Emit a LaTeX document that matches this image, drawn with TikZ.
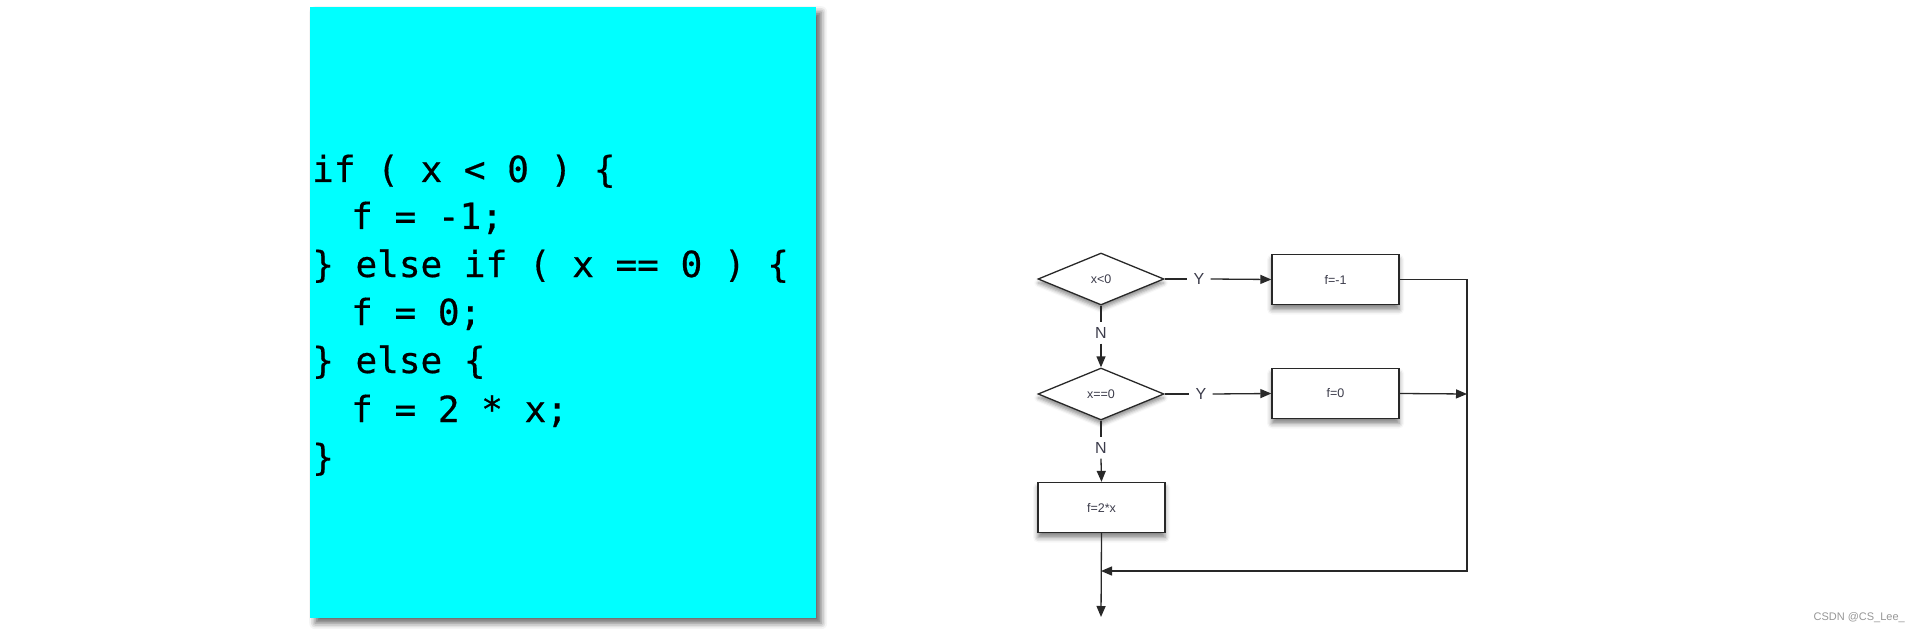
\documentclass[tikz,border=0pt]{standalone}
\usepackage{fontspec}
\setmainfont{Liberation Sans}
\newfontfamily\codefont[FakeBold=0.5]{DejaVu Sans Mono}
\usetikzlibrary{shapes.geometric,arrows.meta,shadows.blur}
\definecolor{codecyan}{RGB}{0,255,255}
\definecolor{linegray}{RGB}{40,40,40}
\definecolor{labgray}{RGB}{60,60,75}
\definecolor{markgray}{RGB}{150,150,150}
\tikzset{
  codeline/.style={anchor=base west, inner sep=0pt, font=\codefont\fontsize{36}{48}\selectfont},
  decision/.style={diamond, draw=linegray, line width=1.3pt, fill=white, minimum width=126pt, minimum height=52pt, inner sep=0pt,
    font=\fontsize{12.5}{14}\selectfont, text=labgray,
    blur shadow={shadow xshift=0pt, shadow yshift=-4pt, shadow blur radius=4pt, shadow opacity=45}},
  actbox/.style={rectangle, draw=linegray, line width=1.3pt, fill=white, minimum width=127pt, minimum height=50pt, inner sep=0pt,
    font=\fontsize{12.5}{14}\selectfont, text=labgray,
    blur shadow={shadow xshift=0pt, shadow yshift=-5pt, shadow blur radius=5pt, shadow opacity=50}},
  branchlab/.style={inner xsep=6pt, inner ysep=5pt, font=\fontsize{16}{18}\selectfont, text=labgray},
  conn/.style={draw=linegray, line width=1.3pt},
  arr/.style={conn, -{Triangle[length=11pt,width=9pt]}},
}
\begin{document}
\begin{tikzpicture}[x=1pt,y=-1pt]
\useasboundingbox (0,0) rectangle (1920,631);
% code panel
\node[anchor=north west, inner sep=0pt, minimum width=506pt, minimum height=611pt, fill=codecyan,
  blur shadow={shadow xshift=5pt, shadow yshift=-5pt, shadow blur radius=6pt, shadow opacity=60}] (panel) at (310,7) {};
\node[codeline] (l1) at (312,182) {if ( x < 0 ) \{};
\node[codeline] (l2) at (351,229) {f = -1;};
\node[codeline] (l3) at (312,277) {\} else if ( x == 0 ) \{};
\node[codeline] (l4) at (351,325) {f = 0;};
\node[codeline] (l5) at (312,373) {\} else \{};
\node[codeline] (l6) at (351,422) {f = 2 * x;};
\node[codeline] (l7) at (312,470) {\}};
% flowchart
\node[decision] (d1) at (1101,279) {x<0};
\node[decision] (d2) at (1101,394) {x==0};
\node[actbox] (b1) at (1335.5,279.5) {f=-1};
\node[actbox] (b2) at (1335.5,393.5) {f=0};
\node[actbox] (b3) at (1101.5,507.5) {f=2*x};
\node[branchlab] (y1) at (1199,279) {Y};
\node[branchlab] (y2) at (1201,394) {Y};
\node[branchlab] (n1) at (1101,333) {N};
\node[branchlab] (n2) at (1101,448) {N};
\coordinate (r) at (1467,571);
\coordinate (j) at (1101,571);
\coordinate (m) at (1467,394);
\coordinate (out) at (1101,617);
\draw[conn] (d1.east) -- (y1.west);
\draw[arr] (y1.east) -- (b1.west);
\draw[conn] (d2.east) -- (y2.west);
\draw[arr] (y2.east) -- (b2.west);
\draw[conn] (d1.south) -- (n1.north);
\draw[arr] (n1.south) -- (d2.north);
\draw[conn] (d2.south) -- (n2.north);
\draw[arr] (n2.south) -- (b3.north);
\draw[arr] (b1.east) -| (r) -- (j);
\draw[arr] (b2.east) -- (m);
\draw[arr] (b3.south) -- (out);
% watermark
\node[anchor=east, inner sep=0pt, font=\fontsize{11}{13}\selectfont, text=markgray] (wm) at (1905,618) {CSDN @CS\_Lee\_};
\end{tikzpicture}
\end{document}
